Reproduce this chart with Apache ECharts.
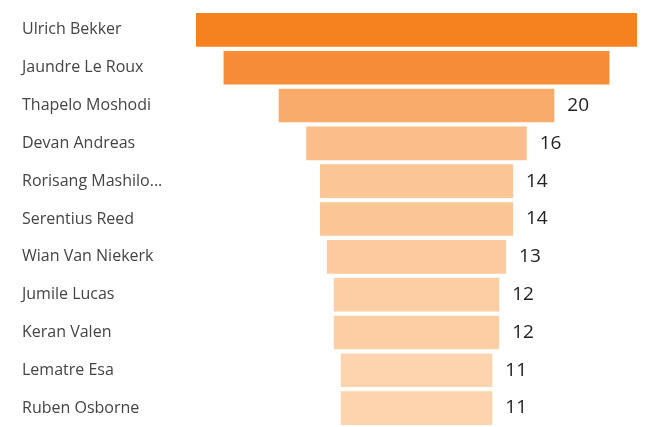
<!DOCTYPE html>
<html>
<head>
<meta charset="utf-8">
<script src="https://cdn.jsdelivr.net/npm/echarts@6/dist/echarts.min.js"></script>
<style>
  html, body { margin: 0; padding: 0; background: #fff; }
  #chart { width: 653px; height: 427px; }
</style>
</head>
<body>
<div id="chart"></div>
<script>
// data
var names = ['Ulrich Bekker', 'Jaundre Le Roux', 'Thapelo Moshodi', 'Devan Andreas', 'Rorisang Mashilo...',
  'Serentius Reed', 'Wian Van Niekerk', 'Jumile Lucas', 'Keran Valen', 'Lematre Esa', 'Ruben Osborne']
var values = [32, 28, 20, 16, 14, 14, 13, 12, 12, 11, 11]
var colors = ['#F5821F', '#F68B38', '#F9AB6B', '#FBBD8A', '#FCC596', '#FCC596',
  '#FCCA9E', '#FDCEA4', '#FDCEA4', '#FDD4AE', '#FDD4AE']
var hideLabel = [true, true, false, false, false, false, false, false, false, false, false]

var maxVal = Math.max.apply(null, values)

var chart = echarts.init(document.getElementById('chart'))
chart.setOption({
  animation: false,
  grid: {
    left: 196,
    right: 16,
    top: 11,
    bottom: 0
  },
  xAxis: {
    type: 'value',
    min: 0,
    max: maxVal,
    show: false
  },
  yAxis: {
    type: 'category',
    inverse: true,
    data: names,
    axisLine: { show: false },
    axisTick: { show: false },
    axisLabel: {
      align: 'left',
      margin: 174,
      fontFamily: 'Open Sans',
      fontSize: 16,
      color: '#444'
    }
  },
  series: [{
    // invisible spacer to centre the bars
    type: 'bar',
    stack: 'funnel',
    silent: true,
    itemStyle: { color: 'transparent' },
    data: values.map(function(v) { return (maxVal - v) / 2 })
  },
  {
    type: 'bar',
    stack: 'funnel',
    barCategoryGap: '11%',
    data: values.map(function(v, i) {
      return {
        value: v,
        itemStyle: { color: colors[i] },
        label: { show: !hideLabel[i] }
      }
    }),
    label: {
      position: 'right',
      distance: 13,
      padding: [3, 0, 0, 0],
      fontFamily: 'Open Sans',
      fontSize: 19,
      color: '#222'
    }
  }]
})
</script>
</body>
</html>
